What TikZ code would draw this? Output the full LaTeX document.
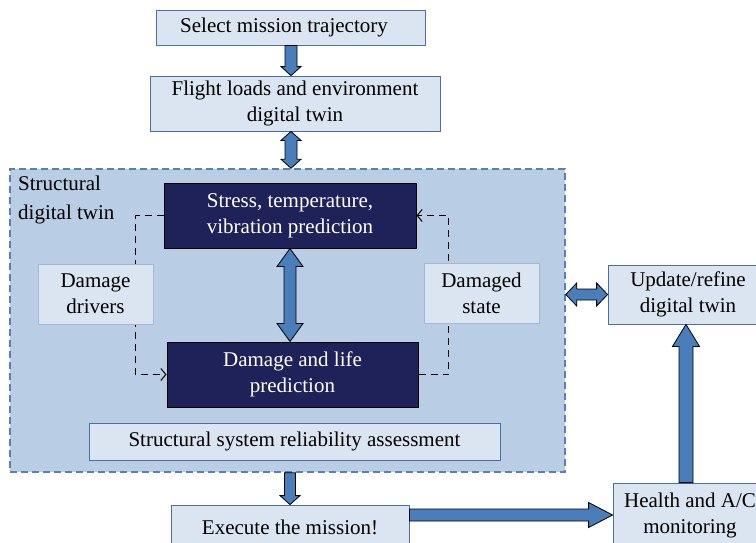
\documentclass[tikz,border=0pt]{standalone}
\usepackage{fontspec}
\setmainfont{Liberation Serif}
\usetikzlibrary{calc,arrows.meta}

\definecolor{boxfill}{HTML}{DBE5F1}
\definecolor{boxline}{HTML}{4A6FA0}
\definecolor{twinfill}{HTML}{B9CDE5}
\definecolor{twinline}{HTML}{5A7FB0}
\definecolor{navy}{HTML}{1F2258}
\definecolor{arrowblue}{HTML}{4A7EBB}

\tikzset{
  blk/.style n args={3}{draw=black, fill=arrowblue, line width=0.8pt, line join=miter,
    to path={let \p1=(\tikztostart), \p2=(\tikztotarget), \p3=($(\p2)!#3!(\p1)$) in
      ($(\p1)!#1!90:(\p2)$) -- ($(\p3)!#1!90:(\p2)$) -- ($(\p3)!#2!90:(\p2)$) -- (\p2)
      -- ($(\p3)!#2!-90:(\p2)$) -- ($(\p3)!#1!-90:(\p2)$) -- ($(\p1)!#1!-90:(\p2)$) -- cycle}},
  dblk/.style n args={3}{draw=black, fill=arrowblue, line width=0.8pt, line join=miter,
    to path={let \p1=(\tikztostart), \p2=(\tikztotarget), \p3=($(\p2)!#3!(\p1)$),
      \p4=($(\p1)!#3!(\p2)$) in
      (\p1) -- ($(\p4)!#2!90:(\p2)$) -- ($(\p4)!#1!90:(\p2)$) -- ($(\p3)!#1!90:(\p2)$)
      -- ($(\p3)!#2!90:(\p2)$) -- (\p2) -- ($(\p3)!#2!-90:(\p2)$) -- ($(\p3)!#1!-90:(\p2)$)
      -- ($(\p4)!#1!-90:(\p2)$) -- ($(\p4)!#2!-90:(\p2)$) -- cycle}}
}

\begin{document}
\begin{tikzpicture}[x=1pt,y=-1pt,
  font=\fontsize{21}{26}\selectfont,
  lbox/.style={draw=boxline, fill=boxfill, line width=0.8pt, align=center, inner sep=2pt},
  pale/.style={draw=boxline!50, fill=boxfill, line width=0.6pt, align=center, inner sep=2pt},
  dbox/.style={draw=black, fill=navy, text=white, line width=1pt, align=center, inner sep=2pt},
  twin/.style={draw=twinline, fill=twinfill, line width=1.5pt, dash pattern=on 7pt off 4pt},
  dline/.style={draw=black, line width=1pt, dash pattern=on 7pt off 5pt,
    -{Straight Barb[length=5pt,width=12pt]}}]
\useasboundingbox (0,0) rectangle (756,542);

\node[lbox, minimum width=269pt, minimum height=35pt] (sel) at (291,27.5)
  {\hspace*{-14pt}Select mission trajectory};
\node[lbox, minimum width=290pt, minimum height=55pt] (flight) at (295,103.5)
  {Flight loads and environment\\digital twin};

\node[twin, minimum width=555pt, minimum height=303pt] (twin) at (287.5,320.5) {};
\node[anchor=north west, align=left, inner sep=0pt, font=\fontsize{21}{29}\selectfont]
  (twinlbl) at (18,176) {Structural\\digital twin};

\node[dbox, minimum width=252pt, minimum height=65pt] (stress) at (290,215.5)
  {Stress, temperature,\\vibration prediction};
\node[dbox, minimum width=251pt, minimum height=65pt] (life) at (292.5,374.5)
  {Damage and life\\prediction};

\draw[dline] (stress.west) -- ++(-28,0) |- (life.west);
\draw[dline] (life.east) -- ++(30,0) |- (stress.east);

\node[pale, minimum width=115pt, minimum height=60pt] (drivers) at (95.5,294)
  {Damage\\drivers};
\node[pale, minimum width=115pt, minimum height=60pt] (dstate) at (481.5,293)
  {Damaged\\state};
\node[lbox, minimum width=411pt, minimum height=37pt] (rel) at (294.5,441.5)
  {Structural system reliability assessment};

\node[lbox, minimum width=238pt, minimum height=44pt] (exec) at (290,527)
  {Execute the mission!};
\node[lbox, minimum width=154pt, minimum height=64pt] (health) at (690,515)
  {Health and A/C\\monitoring};
\node[lbox, minimum width=160pt, minimum height=59pt] (update) at (688,294.5)
  {Update/refine\\digital twin};

\path[blk={6pt}{10pt}{9pt}] (sel.south) to (sel.south |- flight.north);
\path[dblk={6pt}{10pt}{9pt}] (sel.south |- flight.south) to (sel.south |- twin.north);
\path[dblk={6pt}{13pt}{18pt}] (stress.south) to (stress.south |- life.north);
\path[blk={5.5pt}{10pt}{9pt}] (exec.north |- twin.south) to (exec.north);
\path[blk={6pt}{12.5pt}{24pt}] (exec.east |- health.west) to (health.west);
\path[blk={7pt}{13.5pt}{22pt}] (686,0 |- health.north) to (686,0 |- update.south);
\path[dblk={5.5pt}{11.5pt}{11pt}] (twin.east |- update.west) to (update.west);
\end{tikzpicture}
\end{document}
